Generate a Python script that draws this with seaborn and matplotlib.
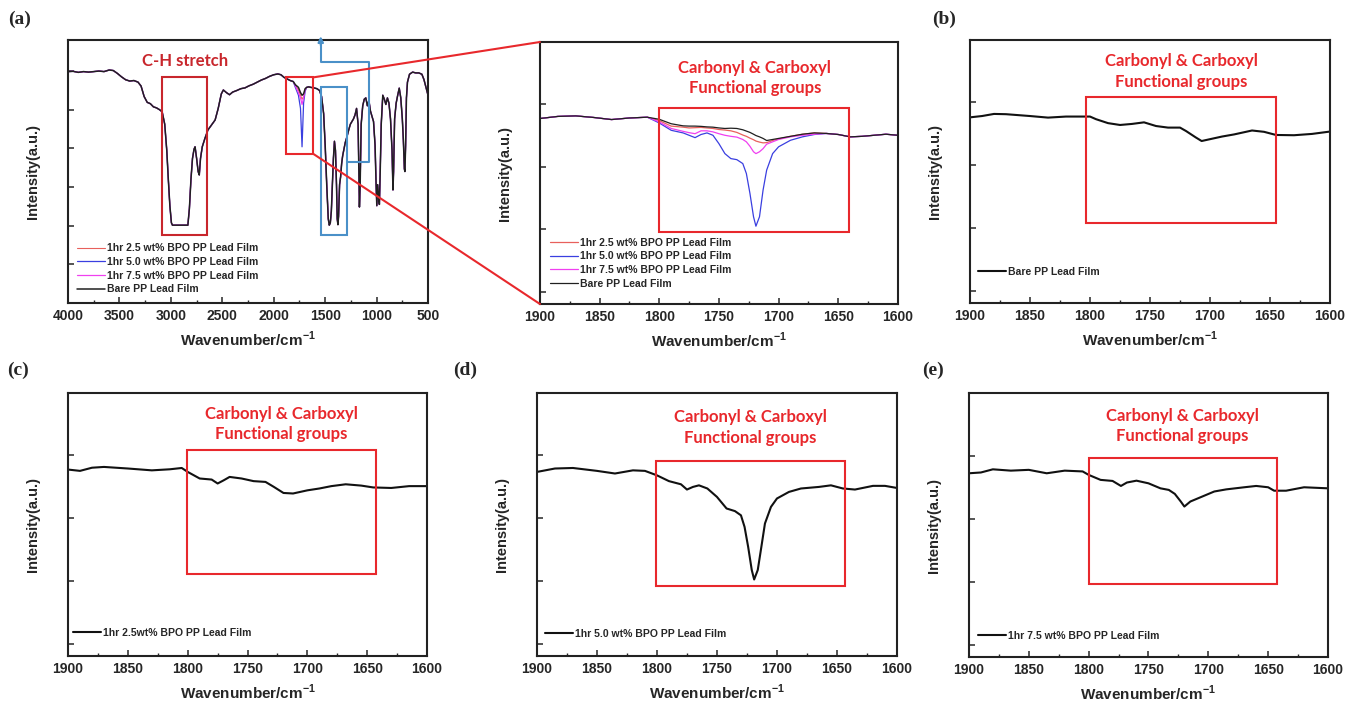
import numpy as np
import pandas as pd
import matplotlib.pyplot as plt
import seaborn as sns
from matplotlib.patches import Rectangle, ConnectionPatch
from matplotlib.ticker import MultipleLocator

sns.set_style("ticks")
plt.rcParams['font.family'] = ['Liberation Sans', 'DejaVu Sans']
plt.rcParams['mathtext.fontset'] = 'custom'
plt.rcParams['mathtext.rm'] = 'Liberation Sans'
plt.rcParams['mathtext.bf'] = 'Liberation Sans:bold'
plt.rcParams['xtick.direction'] = 'in'
plt.rcParams['ytick.direction'] = 'in'

# ---- (a) full spectrum, 4000-500 cm-1 ----
wide_wn = [4000, 3950, 3900, 3850, 3800, 3750, 3700, 3650, 3600, 3560, 3520, 3480,
           3440, 3400, 3360, 3320, 3290, 3260, 3230, 3200, 3170, 3140, 3110, 3085,
           3060, 3040, 3025, 3010, 2995, 2985, 2900, 2835, 2820, 2805, 2790, 2775,
           2765, 2750, 2735, 2724, 2712, 2695, 2670, 2640, 2600, 2570, 2540, 2510,
           2490, 2460, 2430, 2400, 2360, 2320, 2280, 2240, 2200, 2160, 2120, 2080,
           2040, 2000, 1960, 1930, 1900, 1870, 1840, 1810, 1790, 1760, 1740, 1725,
           1710, 1695, 1680, 1660, 1640, 1610, 1580, 1555, 1535, 1515, 1500, 1485,
           1470, 1460, 1450, 1440, 1430, 1420, 1410, 1400, 1390, 1383, 1376, 1370,
           1360, 1350, 1340, 1330, 1320, 1305, 1290, 1270, 1255, 1240, 1225, 1210,
           1195, 1180, 1167, 1160, 1150, 1135, 1120, 1105, 1090, 1075, 1060, 1045,
           1030, 1015, 1005, 998, 990, 980, 973, 965, 955, 940, 925, 910, 895, 880,
           865, 850, 841, 835, 825, 810, 795, 780, 765, 750, 740, 730, 725, 718,
           710, 700, 680, 650, 620, 590, 560, 540, 520, 500]
wide_bare = [88.0, 88.1, 87.7, 88.0, 87.8, 88.0, 88.2, 88.0, 88.6, 88.4, 87.3, 86.0,
             84.9, 84.4, 84.6, 84.0, 82.5, 78.5, 76.3, 75.8, 74.6, 74.2, 73.5, 72.7,
             68.0, 58.0, 47.0, 37.0, 30.5, 29.6, 29.6, 29.6, 36.0, 47.0, 55.0, 58.5,
             59.4, 55.0, 50.0, 48.7, 55.0, 59.4, 62.5, 65.8, 68.0, 69.6, 74.0, 79.5,
             81.0, 80.0, 79.2, 80.2, 80.8, 81.5, 81.8, 82.6, 83.2, 84.0, 84.8, 85.4,
             86.2, 86.8, 87.1, 86.8, 85.8, 85.2, 84.6, 84.2, 83.0, 82.0, 80.0, 79.0,
             79.5, 81.5, 82.0, 82.2, 82.0, 81.8, 81.5, 80.8, 78.5, 72.0, 60.0, 45.0,
             32.0, 29.6, 30.5, 35.0, 45.0, 55.0, 61.5, 58.0, 45.0, 32.0, 29.8, 33.0,
             45.0, 48.0, 53.0, 56.0, 58.0, 61.0, 63.0, 66.0, 68.0, 69.0, 70.0, 71.5,
             74.0, 68.0, 36.5, 45.0, 68.0, 75.0, 77.5, 78.0, 75.0, 77.0, 73.0, 71.0,
             69.0, 60.0, 45.0, 37.0, 45.0, 40.0, 37.5, 50.0, 68.0, 79.0, 77.5, 75.5,
             78.0, 76.0, 70.0, 58.0, 43.0, 50.0, 70.0, 76.0, 79.0, 81.7, 78.0, 70.0,
             62.0, 51.0, 50.0, 60.0, 78.0, 84.0, 87.0, 87.8, 87.5, 87.5, 87.0, 85.0,
             82.0, 79.0]
wide_carb_wn = [1790, 1760, 1740, 1725, 1710, 1695]
wide_carb_25 = [82.8, 81.0, 79.0, 77.5, 78.5, 81.0]
wide_carb_50 = [82.0, 79.0, 74.0, 59.4, 76.0, 80.5]
wide_carb_75 = [82.5, 80.0, 78.0, 75.5, 78.0, 81.0]

# ---- zoomed 1900-1600 cm-1, all four films ----
zoom_wn = [1900, 1885, 1870, 1855, 1840, 1825, 1810, 1800, 1790, 1780, 1775, 1770,
           1765, 1760, 1755, 1750, 1745, 1740, 1735, 1730, 1727, 1724, 1721, 1719,
           1716, 1713, 1710, 1705, 1700, 1690, 1680, 1670, 1660, 1650, 1640, 1630,
           1620, 1610, 1600]
zoom_bare = [70.8, 71.6, 71.8, 71.2, 70.4, 71.0, 71.3, 70.5, 68.8, 68.0, 67.9, 67.9,
             67.8, 67.6, 67.5, 67.2, 67.0, 67.1, 67.0, 66.5, 66.0, 65.5, 64.8, 64.3,
             63.8, 63.2, 62.4, 62.8, 63.2, 64.0, 64.8, 65.3, 65.1, 64.7, 63.8, 64.0,
             64.4, 64.8, 64.4]
zoom_25 = [70.8, 71.6, 71.8, 71.2, 70.4, 71.0, 71.3, 70.0, 67.9, 67.5, 67.2, 67.3,
           67.4, 67.2, 67.0, 66.6, 66.4, 66.1, 65.5, 64.5, 64.0, 63.3, 62.7, 62.2,
           61.8, 61.5, 61.6, 62.4, 63.0, 64.0, 64.8, 65.3, 65.1, 64.7, 63.8, 64.0,
           64.4, 64.8, 64.4]
zoom_50 = [70.8, 71.6, 71.8, 71.2, 70.4, 71.0, 71.3, 69.1, 66.3, 65.3, 64.4, 63.5,
           64.7, 65.3, 64.4, 61.2, 57.4, 55.5, 55.1, 53.6, 49.8, 42.2, 33.3, 29.7,
           33.3, 43.5, 51.1, 57.4, 60.0, 62.5, 63.8, 64.7, 65.1, 64.7, 63.8, 64.0,
           64.4, 64.8, 64.4]
zoom_75 = [70.8, 71.6, 71.8, 71.2, 70.4, 71.0, 71.3, 69.5, 67.0, 65.9, 65.4, 65.0,
           66.1, 66.1, 65.7, 65.0, 64.4, 64.0, 63.7, 62.8, 61.9, 60.2, 58.1, 57.4,
           58.1, 59.3, 61.0, 61.9, 62.8, 63.8, 64.4, 64.8, 65.1, 64.7, 63.8, 64.0,
           64.4, 64.8, 64.4]

# ---- (b) bare PP ----
b_wn = [1900, 1890, 1880, 1870, 1850, 1835, 1820, 1800, 1795, 1785, 1775, 1765, 1755,
        1745, 1735, 1725, 1720, 1712, 1707, 1700, 1690, 1680, 1665, 1655, 1645, 1630,
        1615, 1600]
b_int = [70.6, 71.1, 71.9, 71.8, 71.1, 70.5, 70.9, 70.9, 69.9, 68.4, 67.7, 68.1, 68.7,
         67.3, 66.7, 66.7, 65.4, 63.0, 61.6, 62.3, 63.3, 64.1, 65.6, 65.1, 63.9, 63.8,
         64.3, 65.2]

# ---- (c) 2.5 wt% ----
c_wn = [1900, 1890, 1880, 1870, 1850, 1830, 1815, 1805, 1800, 1790, 1780, 1775, 1770,
        1765, 1755, 1745, 1735, 1728, 1720, 1712, 1700, 1690, 1680, 1668, 1655, 1645,
        1630, 1615, 1600]
c_int = [70.9, 70.4, 71.6, 71.9, 71.3, 70.6, 71.0, 71.5, 70.0, 67.5, 67.1, 65.6, 66.8,
         68.1, 67.5, 66.5, 66.2, 64.3, 62.0, 61.8, 63.0, 63.7, 64.6, 65.3, 64.8, 64.1,
         63.9, 64.6, 64.6]

# ---- (d) 5.0 wt% ----
d_wn = [1900, 1885, 1870, 1850, 1835, 1820, 1810, 1800, 1790, 1780, 1775, 1770, 1765,
        1758, 1750, 1742, 1735, 1730, 1727, 1724, 1721, 1719, 1716, 1713, 1710, 1705,
        1700, 1690, 1680, 1665, 1655, 1645, 1635, 1620, 1610, 1600]
d_int = [70.0, 71.3, 71.5, 70.4, 69.4, 70.6, 70.4, 68.7, 66.5, 65.3, 63.3, 64.3, 64.9,
         63.7, 60.5, 56.1, 55.1, 53.5, 49.1, 41.5, 32.7, 29.1, 32.7, 41.5, 50.4, 56.7,
         59.9, 62.4, 63.7, 64.3, 64.9, 63.7, 63.3, 64.7, 64.7, 63.9]

# ---- (e) 7.5 wt% ----
e_wn = [1900, 1890, 1880, 1865, 1850, 1835, 1820, 1805, 1800, 1790, 1780, 1773, 1768,
        1760, 1750, 1740, 1733, 1728, 1723, 1720, 1715, 1705, 1695, 1685, 1670, 1660,
        1650, 1645, 1635, 1620, 1600]
e_int = [69.6, 69.9, 71.1, 70.6, 70.9, 69.6, 70.6, 70.3, 69.0, 67.1, 66.7, 64.8, 66.1,
         66.8, 65.8, 63.9, 63.3, 61.8, 58.9, 57.0, 58.9, 60.8, 62.7, 63.5, 64.3, 64.8,
         64.3, 63.0, 63.0, 64.3, 63.9]

labels = ["1hr 2.5 wt% BPO PP Lead Film", "1hr 5.0 wt% BPO PP Lead Film",
          "1hr 7.5 wt% BPO PP Lead Film", "Bare PP Lead Film"]
colors = ["#e8605c", "#3a3fe0", "#f040f0", "#202020"]

RED = "#e8282c"
DARKRED = "#c8262c"
BLUEBOX = "#4a90c8"
XLAB = r"Wavenumber/cm$^{\mathbf{-1}}$"
BOXTXT = "Carbonyl & Carboxyl\nFunctional groups"
TXTFONT = ['Lato', 'DejaVu Sans']


def treated(carb):
    vals = list(wide_bare)
    for w, v in zip(wide_carb_wn, carb):
        vals[wide_wn.index(w)] = v
    return vals


def style(ax, wide=False):
    if wide:
        ax.set_xlim(4000, 500)
        ax.xaxis.set_major_locator(MultipleLocator(500))
        ax.xaxis.set_minor_locator(MultipleLocator(250))
        ax.set_yticks([14.8, 29.4, 44.1, 58.8, 73.5, 88.2])
    else:
        ax.set_xlim(1900, 1600)
        ax.xaxis.set_major_locator(MultipleLocator(50))
        ax.xaxis.set_minor_locator(MultipleLocator(25))
        ax.set_yticks([4.7, 28.6, 52.4, 76.3])
    ax.set_ylim(0, 100)
    ax.set_yticklabels([])
    ax.tick_params(axis='both', which='major', length=4, width=1.1,
                   labelsize=10, pad=4)
    ax.tick_params(axis='x', which='minor', length=2.5, width=1.0)
    for lab in ax.get_xticklabels():
        lab.set_fontweight('bold')
    for s in ax.spines.values():
        s.set_linewidth(1.5)
        s.set_color('#222222')
    ax.set_xlabel(XLAB, fontsize=11, fontweight='bold', labelpad=5)
    ax.set_ylabel("Intensity(a.u.)", fontsize=10.5, fontweight='bold', labelpad=16)


def add_box(ax, x0, x1, y0, y1, color=RED, lw=1.5):
    ax.add_patch(Rectangle((x1, y0), x0 - x1, y1 - y0, fill=False,
                           edgecolor=color, lw=lw, zorder=5))


def legend(ax, x, y, spacing=0.35):
    ax.legend(loc='center left', bbox_to_anchor=(x, y), frameon=False,
              borderaxespad=0, borderpad=0, handlelength=2.7, handletextpad=0.15,
              labelspacing=spacing, prop={'size': 7.5, 'weight': 'bold'})


fig = plt.figure(figsize=(13.58, 7.06), dpi=100)
ax_a = fig.add_axes([0.0501, 0.5708, 0.2651, 0.3725])
ax_m = fig.add_axes([0.3976, 0.5694, 0.2636, 0.3711])
ax_b = fig.add_axes([0.7143, 0.5708, 0.2651, 0.3725])
ax_c = fig.add_axes([0.0501, 0.0708, 0.2644, 0.3725])
ax_d = fig.add_axes([0.3954, 0.0708, 0.2651, 0.3725])
ax_e = fig.add_axes([0.7135, 0.0694, 0.2644, 0.3739])

# (a) - bare film drawn last so the treated films only show where they differ
wide_series = [treated(wide_carb_25), treated(wide_carb_50),
               treated(wide_carb_75), wide_bare]
for vals, lab, col, lw in zip(wide_series, labels, colors, [0.8, 0.9, 0.9, 1.1]):
    sns.lineplot(x=wide_wn, y=vals, ax=ax_a, color=col, lw=lw, label=lab,
                 sort=False, estimator=None)
style(ax_a, wide=True)
legend(ax_a, 0.025, 0.13)
add_box(ax_a, 3089, 2652, 25.9, 86.0, color=DARKRED)
add_box(ax_a, 1881, 1615, 56.7, 85.8, color=RED)
add_box(ax_a, 1540, 1288, 25.9, 82.1, color=BLUEBOX)
ax_a.plot([1290, 1074, 1074, 1543, 1543], [53.5, 53.5, 91.7, 91.7, 99.0],
          color=BLUEBOX, lw=1.5, clip_on=False, zorder=5)
ax_a.annotate('', xy=(1543, 102.5), xytext=(1543, 97), annotation_clip=False,
              arrowprops=dict(arrowstyle='-|>', color=BLUEBOX, lw=1.5,
                              mutation_scale=8))
ax_a.text(2863, 92, "C-H stretch", color=DARKRED, fontsize=12,
          fontweight='bold', family=TXTFONT, ha='center', va='center')

# zoomed region
for vals, lab, col in zip([zoom_25, zoom_50, zoom_75, zoom_bare], labels, colors):
    sns.lineplot(x=zoom_wn, y=vals, ax=ax_m, color=col, lw=0.9, label=lab,
                 sort=False, estimator=None)
style(ax_m)
legend(ax_m, 0.028, 0.156)
add_box(ax_m, 1800, 1641, 27.6, 75.0)
ax_m.text(1720, 86.3, BOXTXT, color=RED, fontsize=12, fontweight='bold',
          family=TXTFONT, ha='center', va='center', linespacing=1.35)

# connectors from (a) to zoomed region
for ya, yb in [(85.8, 1), (56.7, 0)]:
    con = ConnectionPatch(xyA=(1615, ya), coordsA=ax_a.transData,
                          xyB=(0, yb), coordsB=ax_m.transAxes,
                          color=RED, lw=1.5)
    fig.add_artist(con)

# single-film panels
singles = [
    (ax_b, b_wn, b_int, "Bare PP Lead Film", (1803, 1645, 30.6, 78.2), (1724, 88.0), (0.022, 0.118)),
    (ax_c, c_wn, c_int, "1hr 2.5wt% BPO PP Lead Film", (1801, 1643, 31.1, 78.5), (1722, 88.3), (0.014, 0.087)),
    (ax_d, d_wn, d_int, "1hr 5.0 wt% BPO PP Lead Film", (1801, 1643, 26.7, 74.2), (1722, 86.8), (0.022, 0.084)),
    (ax_e, e_wn, e_int, "1hr 7.5 wt% BPO PP Lead Film", (1800, 1643, 27.8, 75.3), (1722, 87.5), (0.025, 0.08)),
]
for ax, wn, vals, lab, box, txt, leg in singles:
    sns.lineplot(x=wn, y=vals, ax=ax, color='#111111', lw=1.5, label=lab,
                 sort=False, estimator=None)
    style(ax)
    legend(ax, *leg)
    add_box(ax, *box)
    ax.text(txt[0], txt[1], BOXTXT, color=RED, fontsize=12, fontweight='bold',
            family=TXTFONT, ha='center', va='center', linespacing=1.35)

for x, y, t in [(0.0059, 0.973, "(a)"), (0.6863, 0.973, "(b)"), (0.0052, 0.476, "(c)"),
                (0.3336, 0.476, "(d)"), (0.679, 0.476, "(e)")]:
    fig.text(x, y, t, fontsize=14, fontweight='bold', family='Liberation Serif',
             ha='left', va='center')

fig.savefig("out.png", dpi=100)
